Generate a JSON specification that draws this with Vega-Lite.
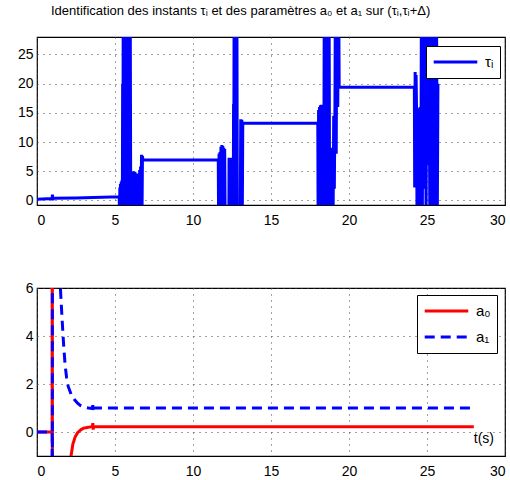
{
  "$schema": "https://vega.github.io/schema/vega-lite/v6.json",
  "padding": {"left": 16, "top": 4, "right": 0, "bottom": 0},
  "spacing": 52,
  "resolve": {"scale": {"color": "independent", "strokeDash": "independent"}, "legend": {"color": "independent", "strokeDash": "independent"}},
  "config": {
    "font": "Liberation Sans",
    "view": {"stroke": "black", "strokeWidth": 1.2},
    "axis": {
      "grid": true, "gridColor": "#444", "gridDash": [1, 5], "gridWidth": 1,
      "domain": false, "ticks": false,
      "labelFontSize": 14, "labelColor": "black", "title": null,
      "labelFont": "Liberation Sans"
    },
    "axisX": {"labelPadding": 8},
    "axisY": {"labelPadding": 4},
    "legend": {
      "symbolType": "stroke", "symbolStrokeWidth": 3, "symbolSize": 1900,
      "strokeColor": "black", "fillColor": "white", "padding": 6,
      "labelFontSize": 15, "labelFont": "Liberation Sans", "labelColor": "black",
      "labelOffset": 6, "title": null, "clipHeight": 20, "rowPadding": 6
    }
  },
  "vconcat": [
    {
      "width": 468, "height": 168,
      "title": {"text": "Identification des instants τᵢ et des paramètres a₀ et a₁ sur (τᵢ,τᵢ+Δ)", "anchor": "start", "frame": "group", "dx": 14, "fontSize": 13, "fontWeight": "normal", "font": "Liberation Sans", "color": "black", "offset": 19},
      "data": {"values": [
        {"t":0,"v":0.2},{"t":0.97,"v":0.3},{"t":0.99,"v":1.0},{"t":1.01,"v":0.0},{"t":1.03,"v":0.35},{"t":2.5,"v":0.42},{"t":3.6,"v":0.5},{"t":5.27,"v":0.6},
        {"t":5.29,"v":-3},{"t":5.31,"v":2.2},{"t":5.33,"v":-3},{"t":5.35,"v":2.8},{"t":5.37,"v":-3},{"t":5.4,"v":3.2},{"t":5.42,"v":-3},{"t":5.45,"v":3.5},{"t":5.47,"v":-3},{"t":5.49,"v":20},{"t":5.51,"v":3},{"t":5.53,"v":40},{"t":5.57,"v":-3},{"t":5.61,"v":40},{"t":5.65,"v":-3},{"t":5.69,"v":40},{"t":5.73,"v":-3},{"t":5.77,"v":40},{"t":5.79,"v":3},{"t":5.81,"v":40},{"t":5.85,"v":-3},{"t":5.89,"v":40},{"t":5.93,"v":-3},{"t":5.97,"v":40},{"t":6.01,"v":-3},{"t":6.04,"v":4.5},{"t":6.07,"v":-3},{"t":6.1,"v":4.8},{"t":6.13,"v":-3},{"t":6.16,"v":5.0},{"t":6.19,"v":-3},{"t":6.22,"v":4.7},{"t":6.25,"v":-3},{"t":6.28,"v":4.9},{"t":6.31,"v":-3},{"t":6.34,"v":4.5},{"t":6.37,"v":-3},{"t":6.4,"v":4.3},{"t":6.43,"v":-3},{"t":6.46,"v":4.6},{"t":6.49,"v":-3},{"t":6.52,"v":4.4},{"t":6.55,"v":-3},{"t":6.58,"v":5.2},{"t":6.61,"v":-3},{"t":6.64,"v":5.8},{"t":6.67,"v":-3},{"t":6.7,"v":7.8},{"t":6.73,"v":-3},{"t":6.76,"v":7.6},{"t":6.79,"v":6.9},
        {"t":11.62,"v":6.9},{"t":11.64,"v":-3},{"t":11.67,"v":8.0},{"t":11.7,"v":-3},{"t":11.73,"v":8.3},{"t":11.76,"v":-3},{"t":11.79,"v":9.2},{"t":11.82,"v":-3},{"t":11.85,"v":9.5},{"t":11.88,"v":-3},{"t":11.91,"v":9.3},{"t":11.94,"v":-3},{"t":11.97,"v":9.0},{"t":12.0,"v":-3},{"t":12.03,"v":8.8},{"t":12.06,"v":-3},{"t":12.3,"v":-3},{"t":12.31,"v":7.3},{"t":12.34,"v":-3},{"t":12.37,"v":7.2},{"t":12.4,"v":-3},{"t":12.43,"v":7.3},{"t":12.46,"v":-3},{"t":12.58,"v":-3},{"t":12.6,"v":16.5},{"t":12.62,"v":12},{"t":12.64,"v":40},{"t":12.69,"v":-3},{"t":12.73,"v":40},{"t":12.78,"v":-3},{"t":12.81,"v":40},{"t":12.84,"v":-3},{"t":13.03,"v":-3},{"t":13.06,"v":13.9},{"t":13.09,"v":-3},{"t":13.13,"v":13.8},{"t":13.16,"v":-3},{"t":13.19,"v":13.2},
        {"t":18.0,"v":13.2},{"t":18.02,"v":-3},{"t":18.05,"v":15.5},{"t":18.08,"v":-3},{"t":18.11,"v":16.0},{"t":18.14,"v":-3},{"t":18.17,"v":16.3},{"t":18.2,"v":-3},{"t":18.23,"v":16.4},{"t":18.26,"v":-3},{"t":18.29,"v":16.3},{"t":18.32,"v":-3},{"t":18.35,"v":15.8},{"t":18.38,"v":-3},{"t":18.42,"v":40},{"t":18.47,"v":-3},{"t":18.52,"v":40},{"t":18.57,"v":-3},{"t":18.62,"v":40},{"t":18.67,"v":-3},{"t":18.72,"v":40},{"t":18.75,"v":4},{"t":18.78,"v":-3},{"t":18.82,"v":7},{"t":18.86,"v":1},{"t":18.9,"v":-3},{"t":18.94,"v":9},{"t":18.98,"v":-3},{"t":19.02,"v":14.5},{"t":19.06,"v":2},{"t":19.1,"v":16.5},{"t":19.13,"v":40},{"t":19.18,"v":8},{"t":19.23,"v":40},{"t":19.28,"v":16},{"t":19.33,"v":40},{"t":19.37,"v":19.4},
        {"t":24.19,"v":19.4},{"t":24.21,"v":2.2},{"t":24.24,"v":22.0},{"t":24.27,"v":3},{"t":24.3,"v":21.5},{"t":24.33,"v":15.5},{"t":24.36,"v":-3},{"t":24.4,"v":15.7},{"t":24.44,"v":-3},{"t":24.48,"v":15.8},{"t":24.52,"v":-3},{"t":24.56,"v":16},{"t":24.6,"v":-3},{"t":24.65,"v":40},{"t":24.7,"v":-3},{"t":24.76,"v":40},{"t":24.82,"v":2},{"t":24.88,"v":40},{"t":24.94,"v":-3},{"t":25.0,"v":40},{"t":25.06,"v":6},{"t":25.12,"v":40},{"t":25.18,"v":-3},{"t":25.24,"v":40},{"t":25.3,"v":-3},{"t":25.36,"v":40},{"t":25.42,"v":-3},{"t":25.48,"v":40},{"t":25.54,"v":-3},{"t":25.6,"v":40},{"t":25.66,"v":-3},{"t":25.7,"v":20}
      ]},
      "mark": {"type": "line", "clip": true, "strokeWidth": 3},
      "encoding": {
        "x": {"field": "t", "type": "quantitative", "scale": {"domain": [0, 30], "nice": false}, "axis": {"values": [0, 5, 10, 15, 20, 25, 30]}},
        "y": {"field": "v", "type": "quantitative", "scale": {"domain": [-0.8, 28], "nice": false, "zero": false}, "axis": {"values": [0, 5, 10, 15, 20, 25]}},
        "color": {"datum": "τᵢ", "type": "nominal", "scale": {"domain": ["τᵢ"], "range": ["#0000ff"]}, "legend": {"orient": "none", "legendX": 389, "legendY": 9}}
      }
    },
    {
      "width": 468, "height": 168,
      "layer": [
        {
          "data": {"values": [
            {"t":0,"v":0,"s":"a₀"},{"t":0.97,"v":0,"s":"a₀"},{"t":0.98,"v":50,"s":"a₀"},{"t":0.99,"v":-50,"s":"a₀"},{"t":1.5,"v":-12,"s":"a₀"},{"t":1.9,"v":-4,"s":"a₀"},{"t":2.18,"v":-1.0,"s":"a₀"},{"t":2.3,"v":-0.5,"s":"a₀"},{"t":2.45,"v":-0.2,"s":"a₀"},{"t":2.6,"v":-0.03,"s":"a₀"},{"t":2.82,"v":0.1,"s":"a₀"},{"t":3.0,"v":0.16,"s":"a₀"},{"t":3.3,"v":0.2,"s":"a₀"},{"t":3.55,"v":0.22,"s":"a₀"},{"t":3.58,"v":0.37,"s":"a₀"},{"t":3.6,"v":0.1,"s":"a₀"},{"t":3.62,"v":0.22,"s":"a₀"},{"t":28.0,"v":0.22,"s":"a₀"},
            {"t":0,"v":0,"s":"a₁"},{"t":0.97,"v":0,"s":"a₁"},{"t":0.98,"v":-50,"s":"a₁"},{"t":0.99,"v":50,"s":"a₁"},{"t":1.2,"v":20,"s":"a₁"},{"t":1.4,"v":8,"s":"a₁"},{"t":1.5,"v":6.0,"s":"a₁"},{"t":1.6,"v":4.8,"s":"a₁"},{"t":1.7,"v":3.7,"s":"a₁"},{"t":1.8,"v":2.8,"s":"a₁"},{"t":1.9,"v":2.25,"s":"a₁"},{"t":2.0,"v":1.9,"s":"a₁"},{"t":2.2,"v":1.55,"s":"a₁"},{"t":2.4,"v":1.35,"s":"a₁"},{"t":2.6,"v":1.2,"s":"a₁"},{"t":2.8,"v":1.1,"s":"a₁"},{"t":3.0,"v":1.04,"s":"a₁"},{"t":3.3,"v":1.0,"s":"a₁"},{"t":3.55,"v":0.98,"s":"a₁"},{"t":3.58,"v":1.12,"s":"a₁"},{"t":3.6,"v":0.88,"s":"a₁"},{"t":3.62,"v":1.0,"s":"a₁"},{"t":28.0,"v":1.0,"s":"a₁"}
          ]},
          "mark": {"type": "line", "clip": true, "strokeWidth": 3},
          "encoding": {
            "x": {"field": "t", "type": "quantitative", "scale": {"domain": [0, 30], "nice": false}, "axis": {"values": [0, 5, 10, 15, 20, 25, 30]}},
            "y": {"field": "v", "type": "quantitative", "scale": {"domain": [-1, 6], "nice": false, "zero": false}, "axis": {"values": [0, 2, 4, 6]}},
            "color": {"field": "s", "type": "nominal", "scale": {"domain": ["a₀", "a₁"], "range": ["#ff0000", "#0000ff"]}, "legend": {"orient": "none", "legendX": 380, "legendY": 7}},
            "strokeDash": {"field": "s", "type": "nominal", "scale": {"domain": ["a₀", "a₁"], "range": [[1, 0], [10, 6]]}, "legend": {"orient": "none", "legendX": 380, "legendY": 7}}
          }
        },
        {
          "data": {"values": [{"t": 28.0, "v": -0.29, "label": "t(s)"}]},
          "mark": {"type": "text", "align": "left", "baseline": "middle", "fontSize": 14, "font": "Liberation Sans", "color": "black"},
          "encoding": {
            "x": {"field": "t", "type": "quantitative"},
            "y": {"field": "v", "type": "quantitative"},
            "text": {"field": "label"}
          }
        }
      ]
    }
  ]
}
